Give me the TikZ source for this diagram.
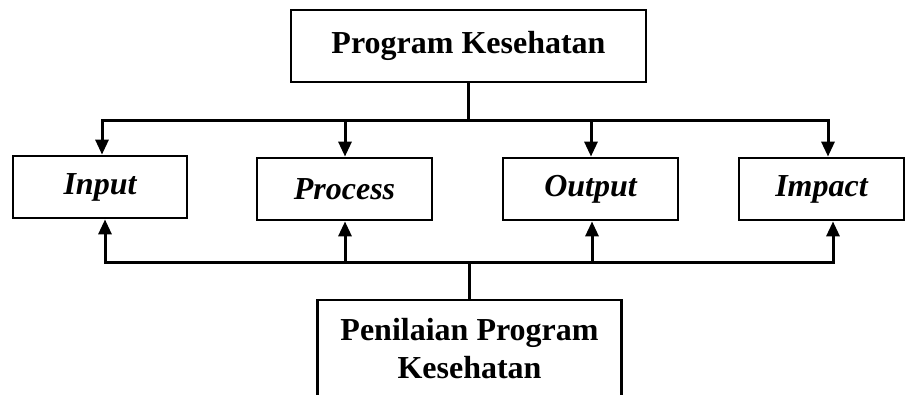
\documentclass[tikz,border=0pt]{standalone}
\usepackage{fontspec}
\setmainfont{Liberation Serif}
\usetikzlibrary{arrows.meta}
\begin{document}
\begin{tikzpicture}[x=1pt,y=-1pt,
  box/.style={draw, line width=2.8pt, inner sep=0pt, font=\fontsize{32}{38}\selectfont\bfseries},
  lnk/.style={line width=3pt},
  arr/.style={lnk, -{Triangle[length=15pt,width=13pt]}}]
\path[use as bounding box, clip] (0,0) rectangle (905,394);
\fill[white] (0,0) rectangle (905,394);

% program and its four evaluation stages
\node[box, minimum width=355pt, minimum height=72pt] (prog) at (468.5,46) {Program Kesehatan};
\node[box, minimum width=174pt, minimum height=62pt] (in)  at (100,187)   {\itshape Input};
\node[box, minimum width=175pt, minimum height=62pt] (pr)  at (344.5,189) {\itshape Process};
\node[box, minimum width=175pt, minimum height=62pt] (out) at (590.5,189) {\itshape Output};
\node[box, minimum width=165pt, minimum height=62pt] (im)  at (821.5,189) {\itshape Impact};

% evaluation box, running on past the lower edge
\node[box, draw=none, anchor=north, align=center, minimum width=301pt, inner ysep=17pt] (eval) at (469.5,300)
  {Penilaian Program\\Kesehatan};
\draw[line width=2.8pt] (eval.north west) rectangle (eval.east |- 0,440);

% upper distribution bus
\coordinate (tj) at (468.5,120);
\coordinate (t1) at (102,120);
\coordinate (t2) at (345,120);
\coordinate (t3) at (591,120);
\coordinate (t4) at (828,120);
\draw[lnk] (prog.south) -- (tj);
\draw[arr] (tj) -| (t1 |- in.north);
\draw[arr] (tj) -| (t4 |- im.north);
\draw[arr] (t2) -- (t2 |- pr.north);
\draw[arr] (t3) -- (t3 |- out.north);

% lower evaluation bus
\coordinate (bj) at (469.5,262);
\coordinate (b1) at (105,262);
\coordinate (b2) at (345,262);
\coordinate (b3) at (592,262);
\coordinate (b4) at (833,262);
\draw[lnk] (eval.north) -- (bj);
\draw[arr] (bj) -| (b1 |- in.south);
\draw[arr] (bj) -| (b4 |- im.south);
\draw[arr] (b2) -- (b2 |- pr.south);
\draw[arr] (b3) -- (b3 |- out.south);
\end{tikzpicture}
\end{document}
